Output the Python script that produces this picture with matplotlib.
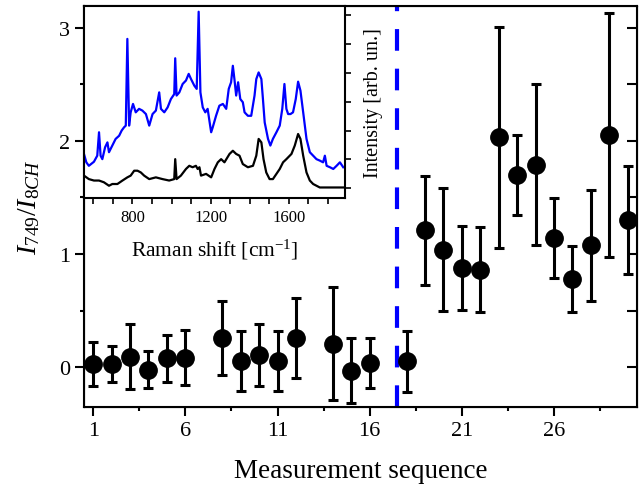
import numpy as np
import matplotlib
matplotlib.use("Agg")
import matplotlib.pyplot as plt

plt.rcParams['font.family'] = ['Liberation Serif', 'DejaVu Serif']
plt.rcParams['mathtext.fontset'] = 'custom'
plt.rcParams['mathtext.rm'] = 'Liberation Serif'
plt.rcParams['mathtext.it'] = 'Liberation Serif:italic'

# main data: ratio I749/I8CH per measurement
seq = [1, 2, 3, 4, 5, 6, 8, 9, 10, 11, 12, 14, 15, 16, 18,
       19, 20, 21, 22, 23, 24, 25, 26, 27, 28, 29, 30]
ratio = [0.03, 0.03, 0.095, -0.02, 0.08, 0.085, 0.26, 0.055, 0.11, 0.06, 0.26, 0.21, -0.03, 0.035, 0.055,
         1.21, 1.04, 0.88, 0.86, 2.03, 1.70, 1.79, 1.14, 0.78, 1.08, 2.05, 1.30]
ratio_err = [0.195, 0.16, 0.29, 0.165, 0.21, 0.245, 0.33, 0.265, 0.275, 0.265, 0.35, 0.5, 0.285, 0.22, 0.27,
             0.48, 0.545, 0.37, 0.375, 0.975, 0.355, 0.71, 0.355, 0.29, 0.49, 1.075, 0.48]
split_at = 17.5

# inset spectra (Raman shift, intensity in arb. units)
blue_shift = [552, 564, 577, 603, 620, 629, 637, 646, 660, 672, 680, 697, 714, 732, 745, 757, 766, 774,
              783, 791, 803, 817, 834, 851, 869, 886, 903, 920, 937, 946, 963, 980, 997, 1014, 1019,
              1026, 1040, 1057, 1074, 1088, 1100, 1117, 1129, 1139, 1148, 1160, 1173, 1185, 1194, 1203,
              1211, 1228, 1245, 1263, 1280, 1293, 1305, 1314, 1322, 1331, 1341, 1352, 1365, 1374, 1391,
              1408, 1425, 1434, 1446, 1460, 1468, 1477, 1494, 1506, 1519, 1537, 1554, 1567, 1578, 1588,
              1597, 1609, 1622, 1636, 1648, 1660, 1674, 1691, 1708, 1725, 1742, 1759, 1776, 1785, 1794,
              1811, 1828, 1845, 1862, 1879]
blue_int = [1.19, 0.90, 0.78, 0.92, 1.13, 1.94, 1.13, 1.01, 1.42, 1.59, 1.25, 1.48, 1.71, 1.82, 2.00, 2.11,
            2.17, 5.17, 2.17, 2.63, 2.92, 2.63, 2.75, 2.69, 2.57, 2.17, 2.57, 2.69, 3.32, 2.75, 2.63, 2.80,
            3.09, 3.26, 4.50, 3.21, 3.32, 3.61, 3.73, 3.96, 3.78, 3.55, 3.44, 6.11, 3.32, 2.80, 2.63, 2.75,
            2.34, 1.94, 2.11, 2.51, 2.86, 2.92, 2.75, 3.44, 3.67, 4.24, 3.78, 3.21, 3.67, 3.09, 2.98, 2.63,
            2.51, 2.51, 3.21, 3.78, 4.01, 3.78, 3.09, 2.28, 1.71, 1.48, 1.71, 1.94, 2.17, 2.75, 3.61, 2.75,
            2.57, 2.57, 2.63, 3.09, 3.69, 3.38, 2.63, 1.71, 1.25, 1.13, 1.01, 0.96, 0.90, 1.13, 0.78, 0.73,
            0.67, 0.78, 0.90, 0.73]
black_shift = [552, 577, 603, 629, 654, 680, 697, 723, 749, 774, 791, 809, 826, 843, 860, 886, 920, 954,
               988, 1014, 1019, 1026, 1048, 1074, 1091, 1108, 1125, 1134, 1143, 1151, 1177, 1203, 1220,
               1237, 1254, 1271, 1297, 1314, 1331, 1348, 1365, 1391, 1417, 1434, 1446, 1460, 1471, 1485,
               1502, 1519, 1537, 1554, 1571, 1588, 1614, 1631, 1648, 1660, 1674, 1691, 1708, 1725, 1759,
               1794, 1828, 1879]
black_int = [0.44, 0.32, 0.27, 0.27, 0.21, 0.09, 0.15, 0.15, 0.27, 0.38, 0.44, 0.61, 0.61, 0.55, 0.44, 0.32,
             0.38, 0.32, 0.27, 0.32, 1.01, 0.32, 0.44, 0.67, 0.78, 0.73, 0.78, 0.67, 0.73, 0.44, 0.50, 0.38,
             0.67, 0.90, 1.01, 0.90, 1.19, 1.30, 1.19, 1.13, 0.84, 0.73, 0.78, 1.13, 1.71, 1.59, 1.01, 0.55,
             0.32, 0.32, 0.50, 0.67, 0.90, 1.01, 1.19, 1.48, 1.88, 1.71, 1.13, 0.55, 0.27, 0.15, 0.03, 0.03,
             0.03, 0.03]

fig = plt.figure(figsize=(6.44, 4.89), dpi=100)
ax = fig.add_axes([0.1304, 0.1656, 0.8587, 0.8201])

ax.errorbar(seq, ratio, yerr=ratio_err, fmt='o', color='black', markersize=12.5,
            elinewidth=2.2, capsize=3.5, capthick=2.2, zorder=3)
ax.axvline(split_at, color='#0000ff', lw=3, linestyle=(0, (5.2, 4.3)), zorder=2)

ax.set_xlim(0.5, 30.5)
ax.set_ylim(-0.35, 3.19)
ax.set_xticks(np.arange(1, 31, 5))
ax.set_xticks(np.arange(3.5, 31, 5), minor=True)
ax.set_yticks([0, 1, 2, 3])
ax.set_yticks([0.5, 1.5, 2.5], minor=True)
ax.tick_params(which='major', direction='out', length=6.5, width=1.5, labelsize=16)
ax.tick_params(which='minor', direction='out', length=3, width=1.5)
for s in ax.spines.values():
    s.set_linewidth(1.5)
ax.set_xlabel('Measurement sequence', fontsize=19.5, labelpad=13)
ax.set_ylabel(r'$I_{\mathit{749}}/I_{\mathit{8CH}}$', fontsize=20, labelpad=12)

# right side ticks pointing inward
axr = ax.twinx()
axr.set_ylim(ax.get_ylim())
axr.set_yticks(np.arange(0, 3.01, 0.5))
axr.tick_params(direction='in', length=7, width=1.5, labelright=False)

# inset with spectra
ins = fig.add_axes([0.1304, 0.5924, 0.4053, 0.3934])
ins.set_zorder(5)
ins.plot(blue_shift, blue_int, color='#0000ff', lw=1.6)
ins.plot(black_shift, black_int, color='black', lw=1.6)
ins.set_xlim(552, 1888)
ins.set_ylim(-0.345, 6.31)
ins.set_xticks([800, 1200, 1600])
ins.set_xticks(np.arange(600, 1900, 100), minor=True)
ins.yaxis.tick_right()
ins.yaxis.set_label_position('right')
ins.set_yticks(np.arange(0, 7, 1))
ins.tick_params(axis='y', direction='out', length=4, width=1.2, labelright=False)
ins.tick_params(axis='x', which='both', direction='out', length=4, width=1.2, labelsize=12)
for s in ins.spines.values():
    s.set_linewidth(1.5)
ins.set_xlabel(r'Raman shift [cm$^{\mathregular{-1}}$]', fontsize=15.5, labelpad=9)
ins.set_ylabel('Intensity [arb. un.]', fontsize=14.5, labelpad=10)

fig.savefig('out.png', dpi=100)
